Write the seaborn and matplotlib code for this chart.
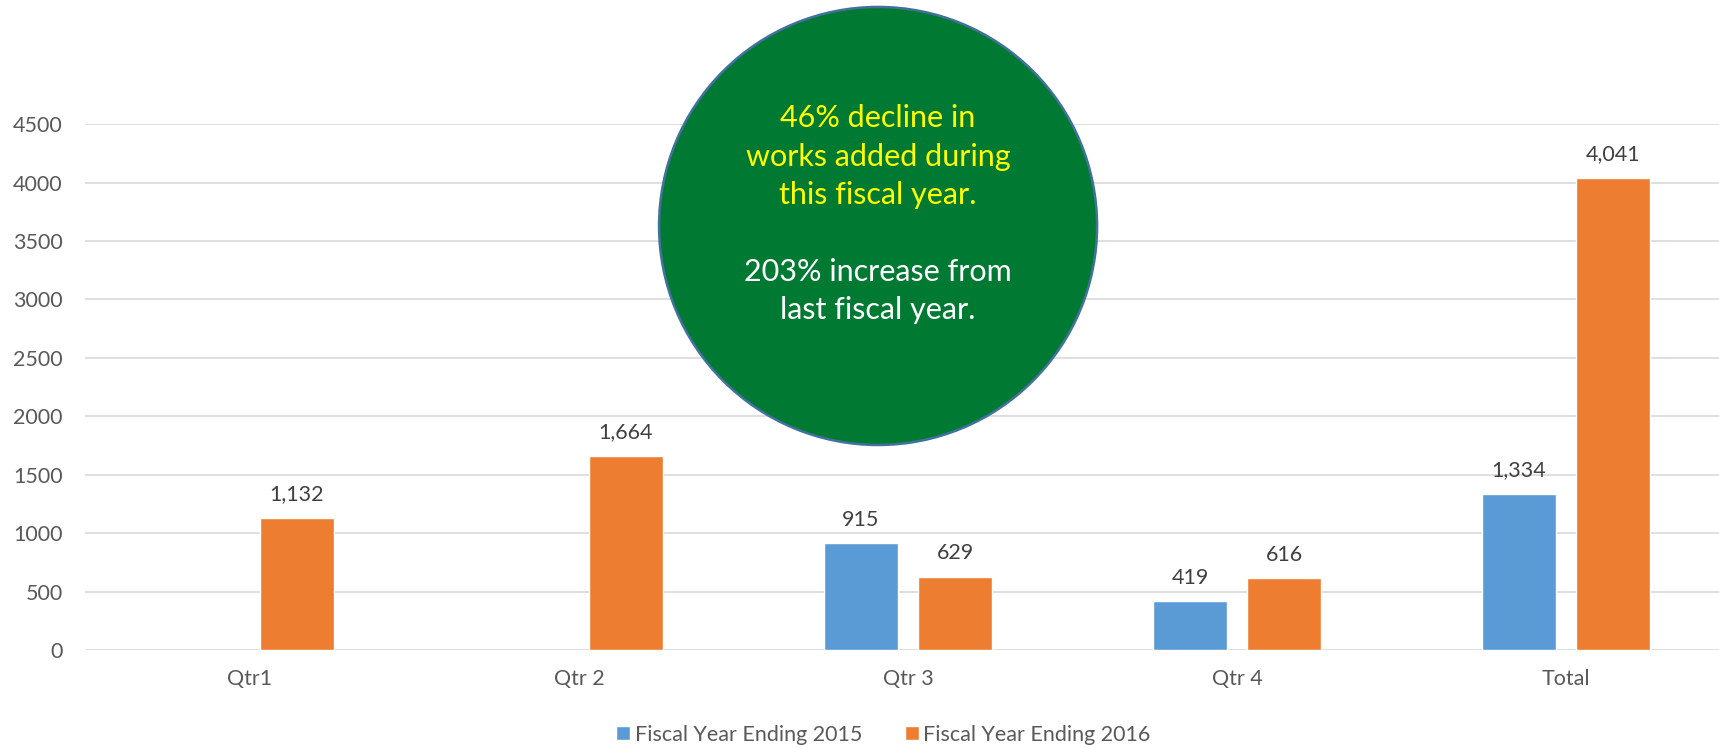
import pandas as pd
import numpy as np
import matplotlib.pyplot as plt
import seaborn as sns
from matplotlib.patches import Ellipse

# data
quarters = ['Qtr1', 'Qtr 2', 'Qtr 3', 'Qtr 4', 'Total']
fy2015 = [np.nan, np.nan, 915, 419, 1334]
fy2016 = [1132, 1664, 629, 616, 4041]
series = ['Fiscal Year Ending 2015', 'Fiscal Year Ending 2016']
colors = ['#5B9BD5', '#ED7D31']
yticks = list(range(0, 5000, 500))

note_yellow = ['46% decline in', 'works added during', 'this fiscal year.']
note_white = ['203% increase from', 'last fiscal year.']

df = pd.DataFrame({
    'Quarter': quarters * 2,
    'Series': [series[0]] * len(quarters) + [series[1]] * len(quarters),
    'Works': fy2015 + fy2016,
})

sns.set_style('white')
plt.rcParams['font.family'] = ['Lato', 'DejaVu Sans']

fig = plt.figure(figsize=(17.19, 7.48), dpi=100)
ax = fig.add_axes([0.04945, 0.1304, 0.9506, 0.7038])

sns.barplot(data=df, x='Quarter', y='Works', hue='Series', order=quarters,
            hue_order=series, palette=colors, width=0.5714, gap=0.213,
            saturation=1, ax=ax, legend=True)

# data labels
for cont in ax.containers:
    labels = ['' if np.isnan(v) else f'{v:,.0f}' for v in cont.datavalues]
    ax.bar_label(cont, labels=labels, padding=10, fontsize=15.5, color='#404040')

ax.set_ylim(0, 4500)
ax.set_xlim(-0.5015, 4.465)
ax.set_yticks(yticks)
ax.set_yticklabels([str(t) for t in yticks])
ax.set_xlabel('')
ax.set_ylabel('')
ax.grid(axis='y', color='#D9D9D9', linewidth=1.2)
ax.set_axisbelow(True)
for s in ax.spines.values():
    s.set_visible(False)
ax.tick_params(axis='y', length=0, pad=16, labelsize=15.5, labelcolor='#595959')
ax.tick_params(axis='x', length=0, pad=13, labelsize=15.5, labelcolor='#595959')

handles, labels = ax.get_legend_handles_labels()
ax.get_legend().remove()
fig.legend(handles, labels, loc='center', bbox_to_anchor=(0.514, 0.018),
           ncol=2, frameon=False, fontsize=15.5, labelcolor='#595959',
           handlelength=0.65, handleheight=0.65, handletextpad=0.2,
           columnspacing=2.0, borderpad=0)

# green callout circle
circle = Ellipse((0.5108, 0.6979), 0.2548, 0.5856, transform=fig.transFigure,
                 facecolor='#007A33', edgecolor='#41719C', linewidth=1.8, zorder=5)
fig.add_artist(circle)
ys = [0.8422, 0.7901, 0.7393]
for line, y in zip(note_yellow, ys):
    fig.text(0.5108, y, line, ha='center', va='center', fontsize=22,
             color='#FFFF00', zorder=6)
ys = [0.6364, 0.5856]
for line, y in zip(note_white, ys):
    fig.text(0.5108, y, line, ha='center', va='center', fontsize=22,
             color='white', zorder=6)

plt.savefig('out.png', dpi=100)
